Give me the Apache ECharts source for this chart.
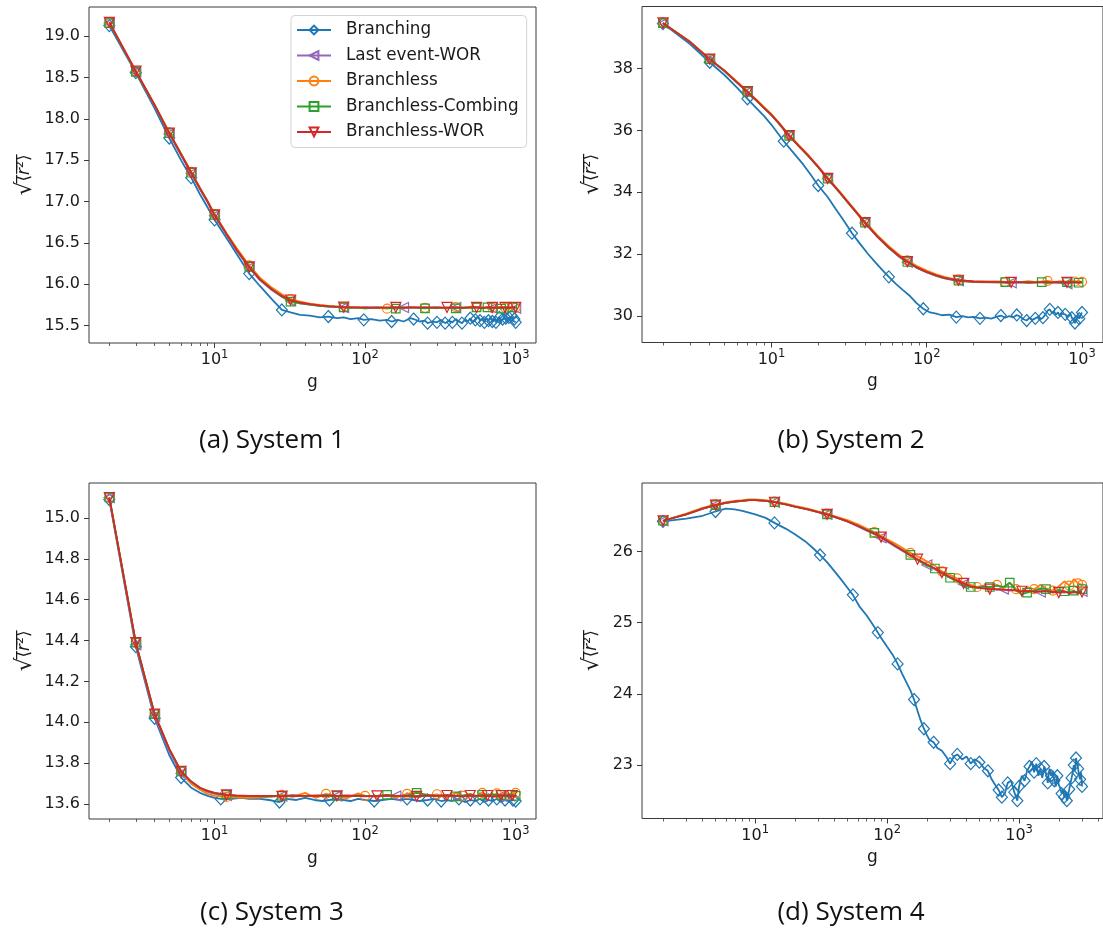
<!DOCTYPE html>
<html><head><meta charset="utf-8">
<script src="https://cdn.jsdelivr.net/npm/echarts@6/dist/echarts.min.js"></script>
<style>html,body{margin:0;padding:0;background:#fff}#c{width:1103px;height:935px}</style>
</head><body><div id="c"></div><script>
// ---------- shared ----------
const seriesNames = ['Branching','Last event-WOR','Branchless','Branchless-Combing','Branchless-WOR'];
const captions = ['(a) System 1','(b) System 2','(c) System 3','(d) System 4'];
const xMajorTicks = [10, 100, 1000];
const xMinorTicksABC = [2,3,4,5,6,7,8,9,20,30,40,50,60,70,80,90,200,300,400,500,600,700,800,900];
const xMinorTicksD = [2,3,4,5,6,7,8,9,20,30,40,50,60,70,80,90,200,300,400,500,600,700,800,900,2000,3000,4000];
const yTicksA = [15.5,16.0,16.5,17.0,17.5,18.0,18.5,19.0];
const yTicksB = [30,32,34,36,38];
const yTicksC = [13.6,13.8,14.0,14.2,14.4,14.6,14.8,15.0];
const yTicksD = [23,24,25,26];

// ---------- panel (a) ----------
const gA_branch = [2,3,4,5,6,7,8,9,10,12,14,17,20,24,28,32,37,43,50,57,65,72,80,90,98,110,125,140,150,165,180,200,210,230,250,260,280,300,320,340,360,380,400,420,440,460,480,500,520,540,560,580,600,620,640,660,680,700,720,740,760,780,800,820,840,860,880,900,920,940,960,980,1000];
const branchingA = [19.13,18.56,18.13,17.77,17.50,17.29,17.09,16.93,16.78,16.56,16.37,16.13,15.98,15.82,15.69,15.66,15.63,15.62,15.60,15.61,15.59,15.60,15.58,15.59,15.57,15.58,15.56,15.57,15.55,15.57,15.55,15.59,15.58,15.55,15.56,15.53,15.55,15.54,15.57,15.53,15.56,15.54,15.58,15.55,15.53,15.57,15.55,15.59,15.54,15.57,15.61,15.56,15.58,15.54,15.59,15.56,15.60,15.55,15.58,15.54,15.57,15.60,15.55,15.58,15.56,15.59,15.54,15.60,15.57,15.62,15.56,15.58,15.54];
const gA = [2,3,4,5,6,7,8,9,10,12,14,17,20,24,28,32,37,43,50,57,65,72,80,90,100,120,140,160,180,200,250,300,350,400,450,500,550,600,650,700,750,800,850,900,950,1000];
const lastEventA = [19.16,18.57,18.16,17.82,17.56,17.34,17.15,16.99,16.83,16.60,16.41,16.20,16.05,15.93,15.85,15.80,15.77,15.755,15.74,15.73,15.725,15.72,15.72,15.715,15.72,15.72,15.715,15.725,15.72,15.715,15.72,15.72,15.71,15.72,15.715,15.72,15.725,15.72,15.715,15.71,15.72,15.715,15.72,15.72,15.715,15.71];
const branchlessA = [19.17,18.58,18.17,17.84,17.58,17.36,17.17,17.01,16.85,16.62,16.44,16.23,16.08,15.96,15.88,15.82,15.79,15.765,15.75,15.74,15.73,15.72,15.725,15.715,15.71,15.72,15.705,15.72,15.71,15.725,15.715,15.72,15.71,15.725,15.715,15.73,15.72,15.71,15.725,15.715,15.72,15.73,15.715,15.725,15.72,15.715];
const combingA = [19.16,18.57,18.17,17.83,17.57,17.35,17.16,17.00,16.84,16.61,16.42,16.21,16.06,15.94,15.85,15.79,15.77,15.755,15.74,15.73,15.725,15.72,15.715,15.72,15.71,15.72,15.715,15.705,15.72,15.72,15.71,15.72,15.715,15.71,15.72,15.715,15.72,15.71,15.72,15.715,15.72,15.705,15.72,15.715,15.72,15.72];
const worA = [19.17,18.58,18.17,17.83,17.57,17.35,17.16,17.00,16.84,16.61,16.42,16.21,16.06,15.94,15.86,15.81,15.78,15.76,15.745,15.735,15.73,15.725,15.72,15.72,15.72,15.715,15.72,15.72,15.715,15.72,15.72,15.715,15.72,15.72,15.715,15.72,15.72,15.715,15.72,15.72,15.715,15.72,15.72,15.715,15.72,15.72];
const marksA = [
  [2,3,5,7,10,17,28,57,98,150,210,260,300,340,380,440,500,540,580,620,660,700,740,780,820,860,900,940,980,1000],
  [2,3,5,7,10,17,32,72,180,400,700,1000],
  [2,3,5,7,10,17,32,72,140,250,400,550,700,850,1000],
  [2,3,5,7,10,17,32,72,160,250,400,550,650,800,950],
  [2,3,5,7,10,17,32,72,160,350,550,700,850,1000]
];

// ---------- panel (b) ----------
const gB_branch = [2,3,4,5,6,7,8,9,10,12,14,16,18,20,23,26,30,33,37,42,47,52,57,63,70,78,86,95,105,115,125,140,155,170,185,200,220,240,260,280,300,320,340,360,380,400,420,440,460,480,500,520,540,560,580,600,620,640,660,680,700,720,740,760,780,800,820,840,860,880,900,920,940,960,980,1000];
const branchingB = [39.45,38.78,38.20,37.78,37.38,37.02,36.72,36.45,36.18,35.65,35.25,34.90,34.55,34.22,33.85,33.45,33.00,32.68,32.35,32.00,31.72,31.48,31.27,31.05,30.85,30.65,30.42,30.24,30.12,30.08,30.03,30.05,29.97,30.00,29.96,29.98,29.93,29.95,29.92,29.98,30.02,29.95,30.00,29.96,30.04,29.98,29.90,29.86,29.95,29.88,29.93,29.98,29.90,29.95,30.05,30.18,30.22,30.10,30.15,30.05,30.12,30.00,30.08,30.02,30.06,29.98,30.04,30.08,29.95,30.00,29.78,29.88,30.02,29.92,30.05,30.12];
const gB = [2,3,4,5,6,7,8,9,10,11,13,15,17,20,23,27,32,40,48,57,66,75,87,100,115,130,150,160,180,200,250,300,320,350,400,450,500,550,600,650,700,750,800,850,900,950,1000];
const lastEventB = [39.46,38.84,38.29,37.91,37.54,37.24,36.96,36.71,36.49,36.26,35.82,35.49,35.21,34.81,34.44,34.04,33.59,33.01,32.56,32.20,31.93,31.74,31.55,31.41,31.30,31.22,31.16,31.14,31.12,31.10,31.09,31.09,31.08,31.08,31.09,31.08,31.09,31.10,31.08,31.09,31.08,31.07,31.05,31.08,31.09,31.08,31.09];
const branchlessB = [39.47,38.86,38.31,37.93,37.57,37.27,36.99,36.74,36.52,36.29,35.85,35.52,35.24,34.84,34.47,34.07,33.63,33.05,32.62,32.26,31.99,31.80,31.61,31.47,31.35,31.27,31.20,31.18,31.15,31.13,31.12,31.12,31.11,31.12,31.10,31.13,31.11,31.12,31.14,31.11,31.12,31.13,31.11,31.14,31.12,31.13,31.11];
const combingB = [39.46,38.85,38.30,37.91,37.54,37.24,36.96,36.71,36.49,36.26,35.82,35.49,35.21,34.81,34.44,34.04,33.59,33.02,32.58,32.21,31.94,31.75,31.56,31.42,31.31,31.23,31.17,31.15,31.13,31.11,31.10,31.09,31.10,31.09,31.10,31.08,31.09,31.10,31.08,31.09,31.10,31.08,31.10,31.09,31.10,31.08,31.09];
const worB = [39.47,38.85,38.30,37.92,37.55,37.25,36.97,36.72,36.50,36.27,35.83,35.50,35.22,34.82,34.45,34.05,33.60,33.02,32.58,32.22,31.95,31.76,31.57,31.43,31.32,31.24,31.18,31.16,31.14,31.12,31.11,31.10,31.10,31.09,31.10,31.10,31.09,31.10,31.10,31.09,31.10,31.10,31.09,31.10,31.10,31.09,31.10];
const marksB = [
  [2,4,7,12,20,33,57,95,155,220,300,380,440,500,560,620,700,780,860,900,960,1000],
  [2,4,7,13,23,40,75,160,350,800],
  [2,4,7,13,23,40,75,160,320,600,900,1000],
  [2,4,7,13,23,40,75,160,320,550,800,950],
  [2,4,7,13,23,40,75,160,350,800]
];

// ---------- panel (c) ----------
const gC_branch = [2,3,4,5,6,7,8,9,10,11,13,15,17,20,23,27,30,35,40,46,52,58,65,72,80,90,100,115,130,150,170,190,210,230,260,290,320,350,380,420,460,500,540,580,620,660,700,750,800,850,900,960,1000];
const branchingC = [15.09,14.37,14.02,13.84,13.73,13.68,13.655,13.64,13.63,13.625,13.625,13.63,13.625,13.625,13.62,13.61,13.625,13.62,13.63,13.62,13.615,13.62,13.625,13.62,13.615,13.625,13.62,13.615,13.62,13.625,13.62,13.625,13.62,13.615,13.62,13.625,13.615,13.62,13.615,13.625,13.61,13.62,13.615,13.625,13.61,13.62,13.615,13.625,13.61,13.62,13.615,13.62,13.615];
const gC = [2,3,4,5,6,7,8,9,10,12,14,17,20,24,28,33,40,47,55,65,75,90,100,120,140,160,190,220,260,300,350,400,450,500,550,600,650,700,750,800,850,900,950,1000];
const lastEventC = [15.10,14.38,14.03,13.86,13.75,13.70,13.675,13.66,13.65,13.642,13.64,13.64,13.638,13.64,13.64,13.638,13.64,13.64,13.638,13.64,13.638,13.64,13.64,13.638,13.64,13.64,13.638,13.64,13.64,13.638,13.64,13.64,13.638,13.64,13.64,13.638,13.64,13.642,13.638,13.64,13.64,13.638,13.64,13.638];
const branchlessC = [15.10,14.39,14.04,13.87,13.76,13.70,13.67,13.65,13.64,13.635,13.632,13.63,13.632,13.638,13.645,13.635,13.655,13.63,13.65,13.638,13.628,13.652,13.64,13.635,13.645,13.632,13.65,13.66,13.64,13.648,13.632,13.655,13.64,13.65,13.635,13.655,13.645,13.638,13.652,13.64,13.658,13.645,13.65,13.655];
const combingC = [15.10,14.39,14.04,13.87,13.76,13.71,13.68,13.665,13.655,13.645,13.64,13.64,13.638,13.636,13.64,13.642,13.638,13.64,13.645,13.64,13.638,13.642,13.64,13.64,13.645,13.64,13.642,13.655,13.645,13.64,13.645,13.638,13.642,13.648,13.64,13.645,13.64,13.65,13.642,13.645,13.64,13.648,13.642,13.64];
const worC = [15.10,14.39,14.04,13.87,13.76,13.71,13.68,13.665,13.655,13.645,13.642,13.64,13.64,13.64,13.638,13.642,13.64,13.642,13.64,13.64,13.642,13.64,13.638,13.64,13.642,13.64,13.64,13.638,13.642,13.64,13.642,13.64,13.638,13.642,13.64,13.64,13.642,13.638,13.64,13.642,13.64,13.64,13.642,13.64];
const marksC = [
  [2,3,4,6,11,27,58,115,190,260,320,420,500,580,660,750,850,960,1000],
  [2,3,4,6,12,28,65,160,400,800],
  [2,3,4,6,12,28,55,100,190,300,450,600,750,900,1000],
  [2,3,4,6,12,28,65,140,220,400,600,800,1000],
  [2,3,4,6,12,28,65,120,220,350,500,650,800,950]
];

// ---------- panel (d) ----------
const gD_branch = [2,3,4,5,6,7,8,10,12,14,17,20,24,28,31,35,40,45,50,55,62,70,78,85,92,100,110,120,130,140,150,160,170,180,190,200,210,225,240,260,280,300,320,340,370,400,430,460,500,540,580,620,660,700,740,780,820,870,920,970,1000,1050,1100,1150,1200,1250,1300,1350,1400,1450,1500,1550,1600,1650,1700,1750,1800,1850,1900,1950,2000,2050,2100,2150,2200,2250,2300,2350,2400,2450,2500,2550,2600,2650,2700,2750,2800,2850,2900,2950,3000];
const branchingD = [26.42,26.46,26.50,26.56,26.60,26.59,26.57,26.52,26.47,26.40,26.32,26.24,26.14,26.03,25.95,25.85,25.72,25.60,25.49,25.39,25.22,25.10,24.97,24.86,24.76,24.66,24.55,24.42,24.28,24.16,24.05,23.92,23.76,23.62,23.51,23.42,23.35,23.32,23.24,23.20,23.12,23.02,23.12,23.15,23.08,23.12,23.02,23.08,23.04,22.96,22.92,22.80,22.72,22.65,22.55,22.60,22.75,22.78,22.62,22.50,22.70,22.85,22.78,22.92,22.98,23.05,22.90,23.02,22.85,22.95,22.82,22.98,22.88,22.75,22.95,22.85,22.92,22.78,22.70,22.85,22.72,22.68,22.60,22.66,22.55,22.62,22.50,22.58,22.66,22.74,22.82,22.90,23.00,22.92,23.10,23.02,22.95,22.85,22.80,22.90,22.70];
const gD = [2,3,4,5,6,7,8,9,10,12,14,17,20,25,30,35,42,50,60,70,80,90,100,115,130,150,170,200,230,260,300,340,380,430,480,540,600,680,760,850,950,1050,1150,1300,1450,1600,1800,2000,2200,2400,2600,2800,3000];
const lastEventD = [26.43,26.52,26.60,26.65,26.68,26.70,26.71,26.72,26.72,26.71,26.69,26.66,26.63,26.59,26.55,26.52,26.47,26.42,26.35,26.29,26.24,26.19,26.14,26.07,26.01,25.94,25.88,25.81,25.75,25.69,25.63,25.58,25.54,25.51,25.49,25.48,25.48,25.46,25.47,25.45,25.46,25.44,25.44,25.45,25.43,25.45,25.44,25.43,25.42,25.44,25.42,25.43,25.44];
const branchlessD = [26.43,26.53,26.61,26.66,26.69,26.71,26.72,26.73,26.73,26.72,26.70,26.67,26.64,26.60,26.56,26.53,26.48,26.44,26.38,26.32,26.27,26.22,26.17,26.11,26.05,25.98,25.93,25.86,25.80,25.72,25.67,25.62,25.56,25.53,25.50,25.52,25.46,25.53,25.48,25.56,25.47,25.44,25.50,25.47,25.53,25.48,25.45,25.51,25.58,25.52,25.61,25.55,25.53];
const combingD = [26.43,26.52,26.60,26.65,26.68,26.70,26.71,26.72,26.72,26.71,26.69,26.66,26.63,26.59,26.55,26.52,26.47,26.42,26.36,26.30,26.26,26.20,26.15,26.08,26.02,25.95,25.88,25.80,25.76,25.69,25.63,25.58,25.52,25.50,25.49,25.51,25.50,25.52,25.50,25.56,25.45,25.40,25.42,25.45,25.48,25.47,25.42,25.46,25.44,25.42,25.45,25.40,25.47];
const worD = [26.43,26.52,26.60,26.65,26.68,26.70,26.71,26.72,26.72,26.71,26.69,26.66,26.63,26.59,26.55,26.52,26.47,26.42,26.36,26.30,26.25,26.20,26.15,26.08,26.02,25.95,25.89,25.82,25.76,25.70,25.64,25.59,25.55,25.51,25.49,25.48,25.47,25.47,25.46,25.46,25.45,25.44,25.45,25.43,25.44,25.44,25.43,25.42,25.44,25.41,25.43,25.42,25.43];
const marksD = [
  [2,5,14,31,55,85,120,160,190,225,300,340,430,500,580,700,740,820,920,970,1000,1100,1200,1300,1350,1450,1550,1650,1750,1850,1950,2100,2200,2300,2400,2500,2600,2700,2800,2900,3000],
  [2,5,14,35,90,200,380,760,1450,3000],
  [2,5,14,35,80,150,260,340,480,680,950,1300,1800,2400,2800,3000],
  [2,5,14,35,80,150,230,300,430,600,850,1150,1600,2200,2600,3000],
  [2,5,14,35,90,170,260,380,600,1050,2000,3000]
];

// ---------- styling ----------
const colors = ['#1f77b4','#9467bd','#ff7f0e','#2ca02c','#d62728'];
const symbols = ['diamond','triangle','circle','rect','triangle'];
const symRot = [0,90,0,0,180];
const symSize = [[11,12],10,9,8.5,10];
const FONT = 'DejaVu Sans';
const TXT = '#1a1a1a';

const panels = [
  {grid:{left:89,top:7,width:447,height:336}, xr:[1.466,1365], minor:xMinorTicksABC, yr:[15.29,19.355], yt:yTicksA, dec:1, gap:53,
   g:[gA_branch,gA,gA,gA,gA], y:[branchingA,lastEventA,branchlessA,combingA,worA], m:marksA},
  {grid:{left:642,top:6.5,width:464,height:336}, xr:[1.466,1365], minor:xMinorTicksABC, yr:[29.15,40.0], yt:yTicksB, dec:0, gap:39,
   g:[gB_branch,gB,gB,gB,gB], y:[branchingB,lastEventB,branchlessB,combingB,worB], m:marksB},
  {grid:{left:89,top:483,width:447,height:336}, xr:[1.466,1365], minor:xMinorTicksABC, yr:[13.527,15.171], yt:yTicksC, dec:1, gap:53,
   g:[gC_branch,gC,gC,gC,gC], y:[branchingC,lastEventC,branchlessC,combingC,worC], m:marksC},
  {grid:{left:642,top:483,width:463,height:335.5}, xr:[1.387,4325], minor:xMinorTicksD, yr:[22.25,26.96], yt:yTicksD, dec:0, gap:39,
   g:[gD_branch,gD,gD,gD,gD], y:[branchingD,lastEventD,branchlessD,combingD,worD], m:marksD}
];

const yName = '{s|\u221a}{n|\u27e8\u0305}{i|r\u0305}{n|\u00b2\u0305\u27e9\u0305}';

const grid=[], xAxis=[], yAxis=[], series=[], graphic=[];
panels.forEach((p, pi) => {
  grid.push(Object.assign({show:true, borderColor:'#3a3a3a', borderWidth:1, backgroundColor:'transparent'}, p.grid));
  xAxis.push({type:'log', logBase:10, gridIndex:pi, position:'bottom', min:p.xr[0], max:p.xr[1],
    axisLine:{show:false}, splitLine:{show:false}, minorTick:{show:false},
    axisTick:{show:true, length:5, customValues:xMajorTicks, lineStyle:{color:'#3a3a3a', width:1}},
    axisLabel:{show:true, customValues:xMajorTicks, margin:6, color:TXT,
      formatter:v => '{b|10}{s|' + Math.round(Math.log10(v)) + '}',
      rich:{b:{fontSize:16, fontFamily:FONT, color:TXT}, s:{fontSize:11.5, fontFamily:FONT, color:TXT, padding:[0,0,10,0]}}},
    name:'g', nameLocation:'middle', nameGap:31, nameTextStyle:{fontSize:17, fontFamily:FONT, color:TXT}});
  xAxis.push({type:'log', logBase:10, gridIndex:pi, position:'bottom', min:p.xr[0], max:p.xr[1],
    axisLine:{show:false}, splitLine:{show:false}, axisLabel:{show:false},
    axisTick:{show:true, length:3, customValues:p.minor, lineStyle:{color:'#3a3a3a', width:0.8}}});
  yAxis.push({type:'value', gridIndex:pi, min:p.yr[0], max:p.yr[1],
    axisLine:{show:false}, splitLine:{show:false},
    axisTick:{show:true, length:5, customValues:p.yt, lineStyle:{color:'#3a3a3a', width:1}},
    axisLabel:{show:true, customValues:p.yt, margin:9, fontSize:16, fontFamily:FONT, color:TXT,
      formatter:v => Number(v).toFixed(p.dec)},
    name:yName, nameLocation:'middle', nameGap:p.gap,
    nameTextStyle:{color:TXT, fontFamily:FONT, rich:{
      s:{fontSize:22, fontFamily:FONT, color:TXT},
      n:{fontSize:17, fontFamily:FONT, color:TXT},
      i:{fontSize:17, fontFamily:FONT, fontStyle:'italic', color:TXT}}}});
  for (let k = 0; k < 5; k++) {
    const gs = p.g[k], ys = p.y[k], mk = p.m[k];
    const n = Math.min(gs.length, ys.length);
    const data = [];
    for (let i = 0; i < n; i++) {
      const item = {value:[gs[i], ys[i]]};
      if (mk.indexOf(gs[i]) < 0) item.symbol = 'none';
      data.push(item);
    }
    series.push({type:'line', name:seriesNames[k], xAxisIndex:pi*2, yAxisIndex:pi, data,
      symbol:symbols[k], symbolSize:symSize[k], symbolRotate:symRot[k], showAllSymbol:true,
      lineStyle:{color:colors[k], width:1.8},
      itemStyle:{color:'rgba(255,255,255,0)', borderColor:colors[k], borderWidth:1.2},
      emphasis:{disabled:true}, z:2+k, clip:true});
  }
});

const capPos = [[272,441],[851,441],[272,913],[851,913]];
captions.forEach((t, i) => {
  graphic.push({type:'text', x:capPos[i][0], y:capPos[i][1],
    style:{text:t, font:'26px "Open Sans"', fill:'#111', align:'center', verticalAlign:'middle'}});
});

const chart = echarts.init(document.getElementById('c'), null, {renderer:'canvas'});
chart.setOption({
  animation:false, backgroundColor:'#fff',
  grid, xAxis, yAxis, series, graphic,
  legend:{data:seriesNames, orient:'vertical', left:291, top:15.5,
    padding:[6,8,7,5], itemGap:8.5, itemWidth:34, itemHeight:11,
    backgroundColor:'#fff', borderColor:'#d4d4d4', borderWidth:1, borderRadius:4,
    textStyle:{fontSize:16.8, fontFamily:FONT, color:TXT, padding:[0,0,0,10]},
    selectedMode:false}
});
</script></body></html>
